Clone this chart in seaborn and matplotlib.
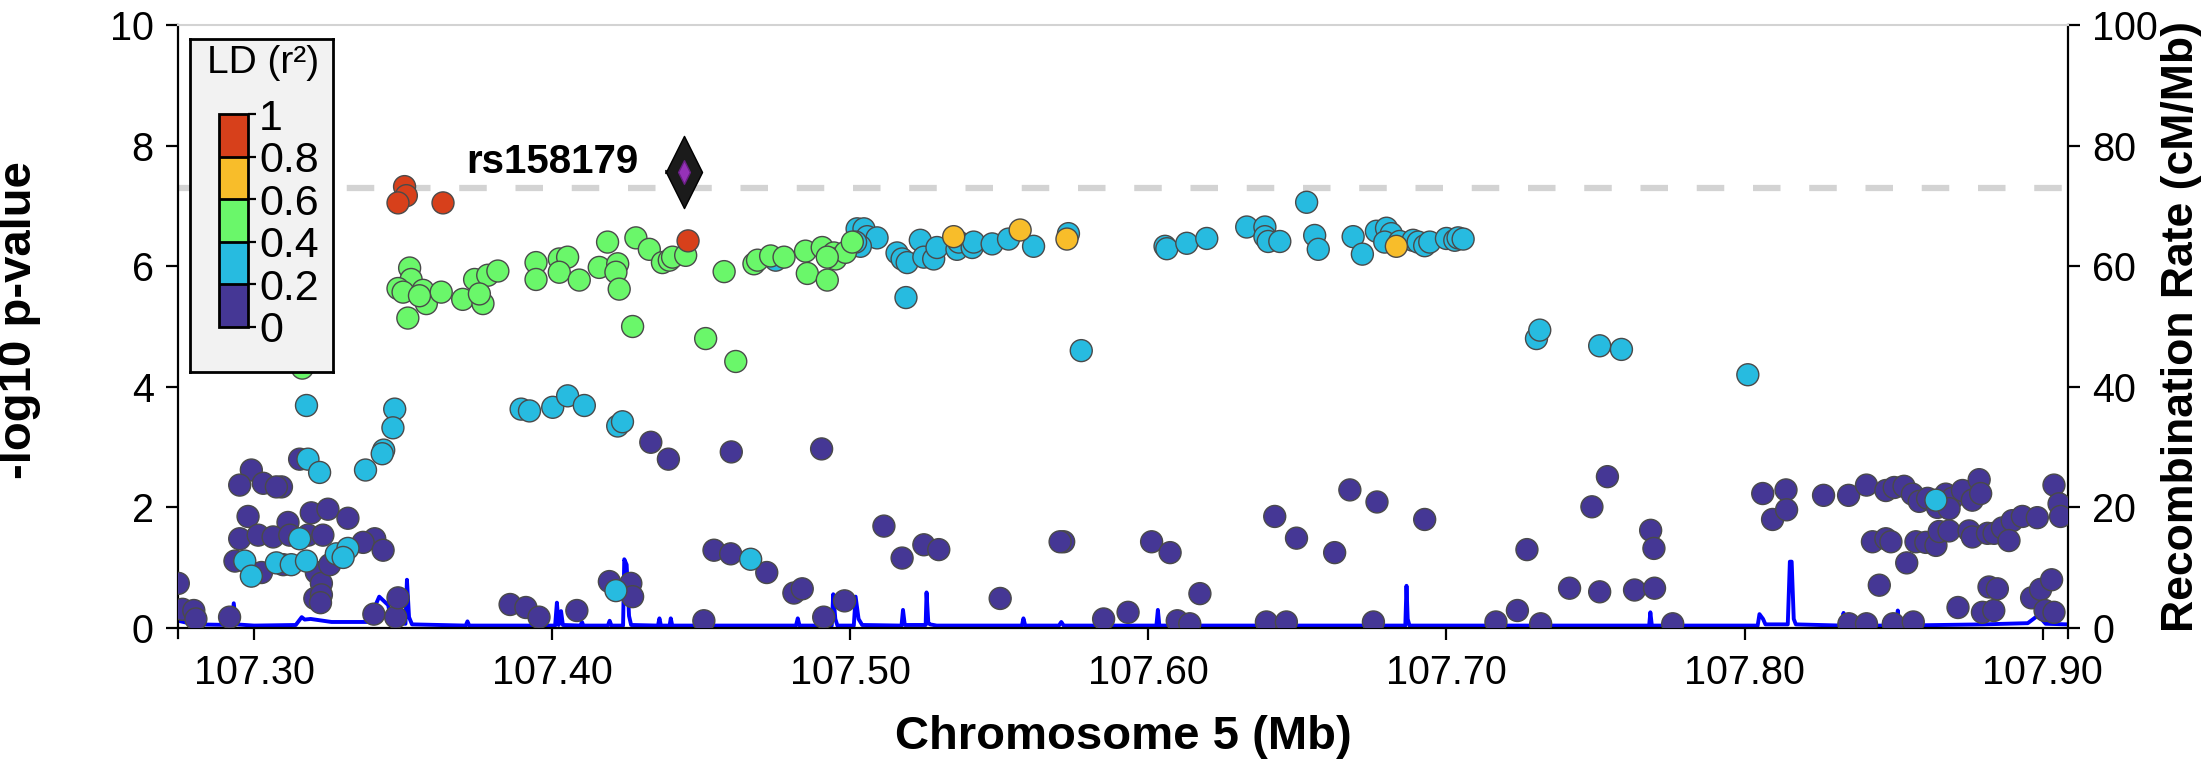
import numpy as np
import pandas as pd
import matplotlib
matplotlib.use("Agg")
import matplotlib as mpl
import matplotlib.pyplot as plt
import seaborn as sns
from matplotlib.colors import ListedColormap, BoundaryNorm
from matplotlib.path import Path

sns.set_theme(style="ticks")
plt.rcParams['font.family'] = ['Liberation Sans', 'DejaVu Sans']
plt.rcParams['text.color'] = 'black'
plt.rcParams['axes.labelcolor'] = 'black'
plt.rcParams['xtick.color'] = 'black'
plt.rcParams['ytick.color'] = 'black'

# ---------------- data ----------------
red_pos = [107.3505, 107.3511, 107.3483, 107.3634, 107.4456]
red_logp = [7.32, 7.17, 7.05, 7.05, 6.42]

yellow_pos = [107.5347, 107.5570, 107.5727, 107.6832]
yellow_logp = [6.49, 6.60, 6.45, 6.33]

green_pos = [107.3522, 107.3511, 107.3527, 107.3483, 107.3500, 107.3567, 107.3578, 107.3628,
             107.3516, 107.3555, 107.3700, 107.3740, 107.3768, 107.3784, 107.3756, 107.3162,
             107.3818, 107.3946, 107.3946, 107.4024, 107.4052, 107.4024, 107.4091, 107.4158,
             107.4186, 107.4220, 107.4214, 107.4225, 107.4281, 107.4326, 107.4370, 107.4393,
             107.4404, 107.4448, 107.4270, 107.4515, 107.4616, 107.4577, 107.4677, 107.4689,
             107.4733, 107.4778, 107.4850, 107.4856, 107.4906, 107.4945, 107.4951, 107.4984,
             107.4923, 107.4923, 107.5007]
green_logp = [5.97, 5.66, 5.78, 5.63, 5.57, 5.60, 5.38, 5.57,
              5.14, 5.51, 5.45, 5.78, 5.38, 5.85, 5.54, 4.31,
              5.92, 6.06, 5.78, 6.12, 6.15, 5.90, 5.77, 5.98,
              6.40, 6.04, 5.90, 5.62, 6.47, 6.28, 6.06, 6.10,
              6.15, 6.18, 5.00, 4.80, 4.42, 5.91, 6.04, 6.10,
              6.17, 6.15, 6.25, 5.88, 6.31, 6.22, 6.12, 6.23,
              6.15, 5.77, 6.40]

cyan_pos = [107.3176, 107.3472, 107.3466, 107.3435, 107.3430, 107.3374, 107.3181, 107.3220,
            107.3153, 107.2969, 107.2991, 107.3075, 107.3125, 107.3176, 107.3276, 107.3315,
            107.3299, 107.4750, 107.3896, 107.3924, 107.4002, 107.4052, 107.4108, 107.4220,
            107.4236, 107.4666, 107.4214, 107.5023, 107.5046, 107.5057, 107.5090, 107.5034,
            107.5018, 107.5157, 107.5174, 107.5191, 107.5235, 107.5247, 107.5280, 107.5291,
            107.5358, 107.5364, 107.5409, 107.5414, 107.5476, 107.5531, 107.5615, 107.5732,
            107.5187, 107.5775, 107.6056, 107.6062, 107.6129, 107.6196, 107.6330, 107.6391,
            107.6391, 107.6402, 107.6441, 107.6531, 107.6558, 107.6570, 107.6687, 107.6718,
            107.6765, 107.6799, 107.6815, 107.6793, 107.6843, 107.6888, 107.6905, 107.6927,
            107.6944, 107.7000, 107.7028, 107.7039, 107.7056, 107.7302, 107.7313, 107.7514,
            107.7587, 107.8011, 107.8642]
cyan_logp = [3.69, 3.63, 3.32, 2.95, 2.89, 2.62, 2.80, 2.58,
             1.48, 1.11, 0.86, 1.08, 1.05, 1.11, 1.23, 1.32,
             1.17, 6.10, 3.63, 3.60, 3.66, 3.85, 3.69, 3.35,
             3.42, 1.14, 0.62, 6.62, 6.62, 6.49, 6.47, 6.33,
             6.40, 6.22, 6.12, 6.06, 6.43, 6.15, 6.12, 6.31,
             6.28, 6.40, 6.31, 6.40, 6.37, 6.45, 6.33, 6.54,
             5.48, 4.60, 6.33, 6.29, 6.38, 6.46, 6.65, 6.65,
             6.49, 6.41, 6.41, 7.06, 6.51, 6.28, 6.49, 6.20,
             6.58, 6.63, 6.54, 6.40, 6.41, 6.43, 6.40, 6.34,
             6.40, 6.46, 6.43, 6.47, 6.45, 4.80, 4.94, 4.68,
             4.62, 4.20, 2.12]

purple_pos = [107.3153, 107.2991, 107.3031, 107.2952, 107.3092, 107.3075, 107.2980, 107.3114,
              107.3192, 107.3248, 107.3315, 107.2952, 107.3014, 107.3064, 107.3120, 107.3181,
              107.3231, 107.3405, 107.3366, 107.3433, 107.2936, 107.3025, 107.3098, 107.3209,
              107.3226, 107.3254, 107.3204, 107.3226, 107.2746,
              107.2760, 107.2798, 107.2805, 107.2918, 107.3223, 107.3402, 107.3475, 107.3483,
              107.3859, 107.3912, 107.3956, 107.4083, 107.4509, 107.4911, 107.4981,
              107.4331, 107.4390, 107.4601, 107.4543, 107.4599, 107.4720, 107.4192, 107.4264,
              107.4270, 107.4811, 107.4839,
              107.4904, 107.5113, 107.5247, 107.5297, 107.5174, 107.5716, 107.5704, 107.5503,
              107.5850, 107.5932, 107.6097, 107.6139, 107.6396, 107.6463, 107.6755, 107.7166,
              107.7238, 107.7316,
              107.6011, 107.6073, 107.6424, 107.6497, 107.6625, 107.6676, 107.6767, 107.6927,
              107.6173,
              107.7540, 107.7488, 107.7685, 107.7696, 107.7270, 107.7413, 107.7514, 107.7631,
              107.7698,
              107.7759, 107.8350, 107.8409, 107.8499, 107.8566, 107.8716, 107.8798, 107.8836,
              107.8963, 107.8993, 107.9030, 107.9008, 107.9038,
              107.8061, 107.8139, 107.8094, 107.8141, 107.8265, 107.8349, 107.8409, 107.8474,
              107.8502, 107.8535, 107.8563, 107.8586, 107.8614, 107.8647, 107.8675, 107.8697,
              107.8731, 107.8764, 107.8787, 107.8792, 107.8686, 107.9038, 107.9055, 107.9060,
              107.8429, 107.8474, 107.8491, 107.8575, 107.8608, 107.8642, 107.8653, 107.8686,
              107.8753, 107.8764, 107.8815, 107.8837, 107.8865, 107.8898, 107.8932, 107.8982,
              107.8887, 107.8544, 107.8452, 107.8820, 107.8848]
purple_logp = [2.80, 2.62, 2.40, 2.37, 2.34, 2.34, 1.85, 1.75,
               1.91, 1.97, 1.82, 1.48, 1.54, 1.51, 1.54, 1.54,
               1.54, 1.48, 1.42, 1.29, 1.11, 0.92, 1.05, 0.92,
               0.74, 1.05, 0.49, 0.55, 0.74,
               0.31, 0.29, 0.15, 0.18, 0.42, 0.23, 0.18, 0.50,
               0.39, 0.34, 0.18, 0.29, 0.12, 0.18, 0.45,
               3.08, 2.80, 2.92, 1.29, 1.23, 0.92, 0.77, 0.74,
               0.52, 0.58, 0.65,
               2.97, 1.69, 1.38, 1.30, 1.16, 1.43, 1.43, 0.49,
               0.15, 0.26, 0.12, 0.07, 0.10, 0.10, 0.10, 0.10,
               0.29, 0.07,
               1.43, 1.25, 1.85, 1.49, 1.25, 2.29, 2.09, 1.80,
               0.57,
               2.51, 2.01, 1.62, 1.32, 1.30, 0.66, 0.60, 0.63,
               0.66,
               0.07, 0.07, 0.07, 0.07, 0.10, 0.34, 0.26, 0.29,
               0.50, 0.64, 0.80, 0.29, 0.26,
               2.23, 2.29, 1.80, 1.96, 2.20, 2.20, 2.37, 2.28,
               2.33, 2.35, 2.22, 2.10, 2.15, 2.00, 2.22, 2.15,
               2.28, 2.12, 2.46, 2.23, 1.98, 2.37, 2.06, 1.85,
               1.43, 1.48, 1.43, 1.43, 1.42, 1.37, 1.60, 1.61,
               1.61, 1.51, 1.57, 1.57, 1.66, 1.78, 1.85, 1.83,
               1.45, 1.08, 0.71, 0.68, 0.65]

lead_snp = "rs158179"
lead_pos = 107.4441
lead_logp = 7.56
gw_threshold = 7.3

recomb_pos = [107.2745, 107.2800, 107.2925, 107.2932, 107.2940, 107.3000, 107.3140, 107.3160,
              107.3170, 107.3190, 107.3260, 107.3380, 107.3405, 107.3420, 107.3450, 107.3462,
              107.3508, 107.3513, 107.3520, 107.3530, 107.3710, 107.3716, 107.3722, 107.4010,
              107.4016, 107.4022, 107.4030, 107.4036, 107.4095, 107.4100, 107.4105, 107.4187,
              107.4193, 107.4199, 107.4238, 107.4242, 107.4250, 107.4258, 107.4265, 107.4355,
              107.4360, 107.4365, 107.4394, 107.4398, 107.4403, 107.4818, 107.4824, 107.4830,
              107.4938, 107.4943, 107.4950, 107.4957, 107.5012, 107.5018, 107.5028, 107.5040,
              107.5172, 107.5177, 107.5183, 107.5253, 107.5256, 107.5262, 107.5268, 107.5290,
              107.5576, 107.5581, 107.5587, 107.5700, 107.5708, 107.5716, 107.6027, 107.6032,
              107.6037, 107.6862, 107.6866, 107.6870, 107.6876, 107.7680, 107.7684, 107.7689,
              107.8044, 107.8050, 107.8062, 107.8070, 107.8145, 107.8152, 107.8158, 107.8165,
              107.8172, 107.8327, 107.8332, 107.8338, 107.8510, 107.8514, 107.8519, 107.8800,
              107.8950, 107.8985, 107.9010, 107.9085]
recomb_rate = [1.2, 0.6, 0.5, 4.1, 0.6, 0.4, 0.5, 1.8,
               1.4, 1.5, 1.0, 1.0, 3.5, 5.2, 3.8, 0.8,
               0.7, 8.0, 1.8, 0.6, 0.4, 1.1, 0.4, 0.4,
               4.2, 0.5, 2.8, 0.5, 0.4, 1.0, 0.4, 0.4,
               1.2, 0.4, 0.4, 11.4, 10.5, 2.0, 0.5, 0.4,
               1.6, 0.4, 0.4, 1.6, 0.4, 0.4, 1.6, 0.4,
               0.4, 5.6, 1.5, 0.4, 0.4, 5.2, 1.5, 0.5,
               0.4, 3.0, 0.5, 0.5, 5.9, 0.8, 0.6, 0.4,
               0.4, 1.6, 0.4, 0.4, 1.0, 0.4, 0.4, 3.0,
               0.4, 0.4, 7.0, 1.5, 0.4, 0.4, 2.6, 0.4,
               0.4, 2.3, 1.5, 0.6, 0.6, 11.0, 11.0, 1.5,
               0.6, 0.4, 2.5, 0.4, 0.4, 2.9, 0.4, 0.6,
               0.8, 2.1, 0.7, 0.6]

ld_bins = ["0-0.2", "0.2-0.4", "0.4-0.6", "0.6-0.8", "0.8-1"]
ld_colors = ["#453795", "#27BBE0", "#6AF76A", "#F8BD2A", "#D7401B"]
ld_ticks = [0, 0.2, 0.4, 0.6, 0.8, 1]
ld_ticklabels = ["0", "0.2", "0.4", "0.6", "0.8", "1"]
x_ticks = [107.30, 107.40, 107.50, 107.60, 107.70, 107.80, 107.90]

# ---------------- frame ----------------
frames = []
for name, p, v in [("0-0.2", purple_pos, purple_logp), ("0.2-0.4", cyan_pos, cyan_logp),
                   ("0.4-0.6", green_pos, green_logp), ("0.6-0.8", yellow_pos, yellow_logp),
                   ("0.8-1", red_pos, red_logp)]:
    frames.append(pd.DataFrame({"pos": p, "logp": v, "ld": name}))
df = pd.concat(frames, ignore_index=True)

W, H = 2203, 784
fig = plt.figure(figsize=(W / 100, H / 100), dpi=100)
L, R, T, B = 178, 2068, 25, 628
ax = fig.add_axes([L / W, 1 - B / H, (R - L) / W, (B - T) / H])
ax2 = ax.twinx()

# recombination rate
ax2.plot(recomb_pos, recomb_rate, color="#0000FF", lw=2.8, zorder=1)
ax2.set_ylim(0, 100)
ax2.set_yticks([0, 20, 40, 60, 80, 100])
ax.set_zorder(ax2.get_zorder() + 1)
ax.patch.set_visible(False)

# threshold line
ax.axhline(gw_threshold, color="#D3D3D3", lw=4.5, dashes=(4.4, 4.6), zorder=0.5)

palette = dict(zip(ld_bins, ld_colors))
sns.scatterplot(data=df, x="pos", y="logp", hue="ld", hue_order=ld_bins, palette=palette,
                s=250, edgecolor="#4a4a4a", linewidth=1.0, legend=False, ax=ax, zorder=3)

# lead SNP (tall diamond)
diamond = Path([(0, 1), (0.5, 0), (0, -1), (-0.5, 0), (0, 1)],
               [Path.MOVETO, Path.LINETO, Path.LINETO, Path.LINETO, Path.CLOSEPOLY])
ax.plot([lead_pos - 0.0062, lead_pos - 0.0012], [lead_logp, lead_logp], color="#333333",
        lw=3, ls=(0, (1, 1.2)), zorder=4, solid_capstyle="butt")
ax.plot(lead_pos, lead_logp, marker=diamond, ms=52, mfc="#1b1b1b", mec="black", mew=1,
        zorder=5)
ax.plot(lead_pos, lead_logp, marker=diamond, ms=17, mfc="#9632B8", mec="#6a1f85", mew=1,
        zorder=6)
ax.text(lead_pos - 0.0150, lead_logp - 0.02, lead_snp, ha="right", va="baseline",
        fontsize=29, fontweight="bold", color="black", zorder=6)

# axes styling
ax.set_xlim(107.2745, 107.9085)
ax.set_ylim(0, 10)
ax.set_yticks([0, 2, 4, 6, 8, 10])
ax.set_xticks(x_ticks)
ax.set_xticklabels([f"{v:.2f}" for v in x_ticks])

ax.set_xlabel("Chromosome 5 (Mb)", fontsize=34, fontweight="bold", va="center")
ax.xaxis.set_label_coords(0.5, 1 - 737 / H, transform=fig.transFigure)
ax.set_ylabel("-log10 p-value", fontsize=34, fontweight="bold", va="center", ha="center",
              rotation=90, rotation_mode="default")
ax.yaxis.set_label_coords(19 / W, 1 - 320 / H, transform=fig.transFigure)
ax2.set_ylabel("Recombination Rate (cM/Mb)", fontsize=32, fontweight="bold",
               va="center", ha="center", rotation=90, rotation_mode="default")
ax2.yaxis.set_label_coords(2182 / W, 1 - 327 / H, transform=fig.transFigure)
ax.xaxis.label.set_x((L + R) / 2 / W)

for a in (ax, ax2):
    a.tick_params(direction="out", length=8.5, width=1.6, labelsize=28.5, colors="black",
                  pad=9)
ax.tick_params(axis="x", pad=10)

for s in ("left", "bottom"):
    ax.spines[s].set_color("black")
    ax.spines[s].set_linewidth(1.6)
ax.spines["top"].set_color("#D3D3D3")
ax.spines["top"].set_linewidth(1.5)
ax.spines["right"].set_visible(False)
for s in ("left", "bottom", "top"):
    ax2.spines[s].set_visible(False)
ax2.spines["right"].set_color("black")
ax2.spines["right"].set_linewidth(1.6)
ax.spines["left"].set_bounds(-0.17, 10)
ax2.spines["right"].set_bounds(-1.7, 100)

# ---------------- LD legend ----------------
lax = fig.add_axes([190 / W, 1 - 372 / H, 143 / W, 333 / H])
lax.set_facecolor("#F2F2F2")
lax.set_xticks([])
lax.set_yticks([])
for s in lax.spines.values():
    s.set_visible(True)
    s.set_color("black")
    s.set_linewidth(2)
lax.set_zorder(10)

cax = fig.add_axes([219 / W, 1 - 327 / H, 29 / W, 213 / H])
cax.set_zorder(11)
cmap = ListedColormap(ld_colors)
norm = BoundaryNorm(ld_ticks, cmap.N)
cb = mpl.colorbar.ColorbarBase(cax, cmap=cmap, norm=norm, ticks=ld_ticks, drawedges=True)
cb.outline.set_linewidth(2)
cb.outline.set_edgecolor("black")
cb.dividers.set_color("black")
cb.dividers.set_linewidth(2)
cax.set_yticklabels(ld_ticklabels)
cax.tick_params(direction="out", length=6, width=1.6, labelsize=31, colors="black", pad=2)

fig.text(263 / W, 1 - 63 / H, "LD (r²)", ha="center", va="center", fontsize=28,
         color="black", zorder=12)

fig.savefig("out.png", dpi=100)
